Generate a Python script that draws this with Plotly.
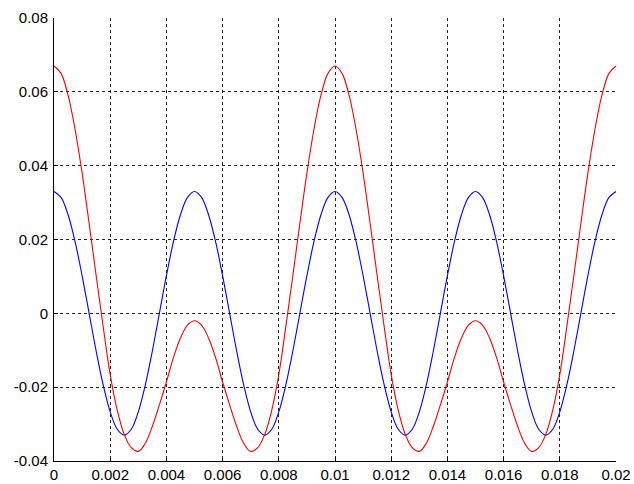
import plotly.graph_objects as go

# Sample times (s)
t = [round(i * 0.00025, 5) for i in range(81)]

# Blue series
blue = [
    0.0330, 0.0314, 0.0267, 0.0194, 0.0102, 0.0000, -0.0102, -0.0194, -0.0267, -0.0314,
    -0.0330, -0.0314, -0.0267, -0.0194, -0.0102, 0.0000, 0.0102, 0.0194, 0.0267, 0.0314,
    0.0330, 0.0314, 0.0267, 0.0194, 0.0102, 0.0000, -0.0102, -0.0194, -0.0267, -0.0314,
    -0.0330, -0.0314, -0.0267, -0.0194, -0.0102, 0.0000, 0.0102, 0.0194, 0.0267, 0.0314,
    0.0330, 0.0314, 0.0267, 0.0194, 0.0102, 0.0000, -0.0102, -0.0194, -0.0267, -0.0314,
    -0.0330, -0.0314, -0.0267, -0.0194, -0.0102, 0.0000, 0.0102, 0.0194, 0.0267, 0.0314,
    0.0330, 0.0314, 0.0267, 0.0194, 0.0102, 0.0000, -0.0102, -0.0194, -0.0267, -0.0314,
    -0.0330, -0.0314, -0.0267, -0.0194, -0.0102, 0.0000, 0.0102, 0.0194, 0.0267, 0.0314,
    0.0330,
]

# Red series
red = [
    0.0670, 0.0650, 0.0591, 0.0498, 0.0380, 0.0244, 0.0102, -0.0036, -0.0166, -0.0262,
    -0.0328, -0.0364, -0.0374, -0.0352, -0.0306, -0.0248, -0.0186, -0.0120, -0.0067, -0.0032,
    -0.0020, -0.0032, -0.0067, -0.0120, -0.0186, -0.0248, -0.0306, -0.0352, -0.0374, -0.0364,
    -0.0328, -0.0262, -0.0166, -0.0036, 0.0102, 0.0244, 0.0380, 0.0498, 0.0591, 0.0650,
    0.0670, 0.0650, 0.0591, 0.0498, 0.0380, 0.0244, 0.0102, -0.0036, -0.0166, -0.0262,
    -0.0328, -0.0364, -0.0374, -0.0352, -0.0306, -0.0248, -0.0186, -0.0120, -0.0067, -0.0032,
    -0.0020, -0.0032, -0.0067, -0.0120, -0.0186, -0.0248, -0.0306, -0.0352, -0.0374, -0.0364,
    -0.0328, -0.0262, -0.0166, -0.0036, 0.0102, 0.0244, 0.0380, 0.0498, 0.0591, 0.0650,
    0.0670,
]

x_ticks = [0, 0.002, 0.004, 0.006, 0.008, 0.01, 0.012, 0.014, 0.016, 0.018, 0.02]
x_labels = ["0", "0.002", "0.004", "0.006", "0.008", "0.01", "0.012", "0.014", "0.016", "0.018", "0.02"]
y_ticks = [-0.04, -0.02, 0, 0.02, 0.04, 0.06, 0.08]
y_labels = ["-0.04", "-0.02", "0", "0.02", "0.04", "0.06", "0.08"]

fig = go.Figure()
fig.add_trace(go.Scatter(x=t, y=blue, mode="lines",
                         line=dict(color="#0000ff", width=1.1, shape="spline", smoothing=1),
                         showlegend=False, hoverinfo="skip"))
fig.add_trace(go.Scatter(x=t, y=red, mode="lines",
                         line=dict(color="#ff0000", width=1.1, shape="spline", smoothing=1),
                         showlegend=False, hoverinfo="skip"))

axis_common = dict(
    showgrid=True, gridcolor="#222222", gridwidth=1, griddash="dot",
    zeroline=False, showline=True, linecolor="black", linewidth=1,
    ticks="inside", ticklen=4, tickcolor="black", automargin=False,
    tickfont=dict(family="Liberation Sans, Arial, sans-serif", size=15, color="black"),
)

fig.update_layout(
    width=634, height=484,
    margin=dict(l=54, r=18, t=18, b=23, autoexpand=False),
    paper_bgcolor="white", plot_bgcolor="white",
    xaxis=dict(range=[0, 0.02], tickvals=x_ticks, ticktext=x_labels,
               ticklabelstandoff=0, **axis_common),
    yaxis=dict(range=[-0.04, 0.08], tickvals=y_ticks, ticktext=y_labels,
               ticklabelstandoff=2, **axis_common),
)

fig.write_html("out.html")
